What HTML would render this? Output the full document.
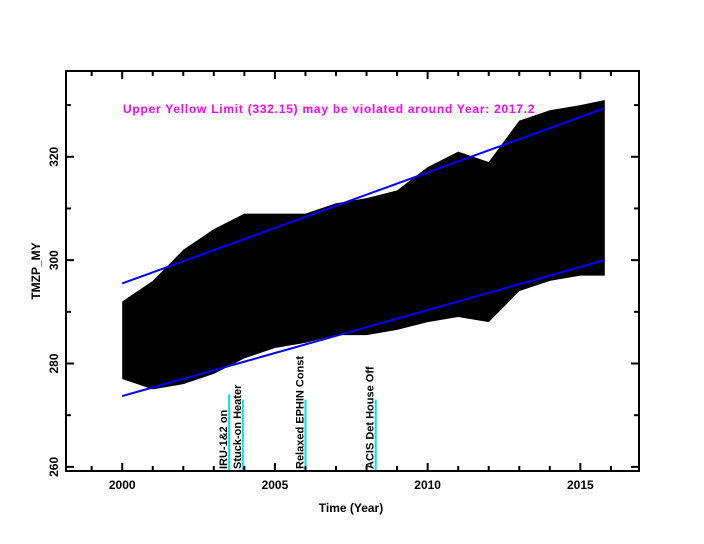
<!DOCTYPE html>
<html><head><meta charset="utf-8"><style>
html,body{margin:0;padding:0;background:#fff;}
svg{display:block;font-family:"Liberation Sans",sans-serif;}
</style></head><body>
<svg id="chart" width="704" height="544" viewBox="0 0 704 544">
<rect x="0" y="0" width="704" height="544" fill="#fff"/>
<g id="data-layer"></g>
<g id="fit-layer"></g>
<g id="event-layer"></g>
<rect x="66" y="71" width="573" height="400" fill="none" stroke="#000" stroke-width="2"/>
<g id="axes"></g>
<text x="123" y="113" fill="#ff00ff" font-size="12" font-weight="bold" letter-spacing="0.75">Upper Yellow  Limit (332.15) may be violated around Year: 2017.2</text>
<text x="351" y="512" text-anchor="middle" font-size="12" font-weight="bold">Time (Year)</text>
<text transform="translate(40,271) rotate(-90)" text-anchor="middle" font-size="12" font-weight="bold">TMZP_MY</text>
</svg>
<script>
const years = [2000,2001,2002,2003,2004,2005,2006,2007,2008,2009,2010,2011,2012,2013,2014,2015,2015.8];
const hiVals = [292,296,302,306,309,309,309,311,312,313.5,318,321,319,327,329,330,331];
const loVals = [277,275,276,278,281,283,284,285.5,285.5,286.5,288,289,288,294,296,297,297];
const fitYears = [2000,2015.8];
const upperFit = [295.5,329.4];
const lowerFit = [273.7,300];
const eventYears = [2003.5,2003.95,2006.0,2008.3];
const eventLabels = ["IRU-1&2 on","Stuck-on Heater","Relaxed EPHIN Const","ACIS Det House Off"];
const eventTops = [274,273,273,273];
const xTicks = [2000,2005,2010,2015];
const yTicks = [260,280,300,320];

const NS="http://www.w3.org/2000/svg";
const X0=66,X1=639,Y0=71,Y1=471;
const xMin=1998.16,xMax=2016.92,yMin=259.2,yMax=336.6;
function sx(v){return X0+(v-xMin)/(xMax-xMin)*(X1-X0);}
function sy(v){return Y1-(v-yMin)/(yMax-yMin)*(Y1-Y0);}
function mk(tag,attrs,parent){const e=document.createElementNS(NS,tag);for(const k in attrs)e.setAttribute(k,attrs[k]);parent.appendChild(e);return e;}

const dl=document.getElementById('data-layer');
let pts=[];
years.forEach((y,i)=>pts.push(sx(y)+','+sy(hiVals[i])));
for(let i=years.length-1;i>=0;i--)pts.push(sx(years[i])+','+sy(loVals[i]));
const band=mk('polygon',{points:pts.join(' '),fill:'#000'},dl);



const fl=document.getElementById('fit-layer');
[[upperFit,'upper-limit-line'],[lowerFit,'lower-limit-line']].forEach(([arr,name])=>{
  const l=mk('line',{x1:sx(fitYears[0]),y1:sy(arr[0]),x2:sx(fitYears[1]),y2:sy(arr[1]),stroke:'#0000ff','stroke-width':2},fl);
  
  
});

const el=document.getElementById('event-layer');
eventYears.forEach((y,i)=>{
  const x=sx(y);
  const l=mk('line',{x1:x,y1:Y1,x2:x,y2:sy(eventTops[i]),stroke:'#00e5e5','stroke-width':2},el);
  
  
  const t=mk('text',{transform:`translate(${x-2},${Y1-2}) rotate(-90)`,'font-size':11,'font-weight':'bold',fill:'#000'},el);
  t.textContent=eventLabels[i];
  
  
});

const ax=document.getElementById('axes');
for(let y=1999;y<=2016;y++){
  const major=y%5===0,len=major?8:5,x=sx(y);
  mk('line',{x1:x,y1:Y1,x2:x,y2:Y1-len,stroke:'#000','stroke-width':2},ax);
  mk('line',{x1:x,y1:Y0,x2:x,y2:Y0+len,stroke:'#000','stroke-width':2},ax);
}
xTicks.forEach(v=>{
  const t=mk('text',{x:sx(v),y:489,'text-anchor':'middle','font-size':12,'font-weight':'bold'},ax);
  t.textContent=v;
  
  
});
for(let v=260;v<=330;v+=10){
  const major=v%20===0,len=major?8:5,y=sy(v);
  mk('line',{x1:X0,y1:y,x2:X0+len,y2:y,stroke:'#000','stroke-width':2},ax);
  mk('line',{x1:X1,y1:y,x2:X1-len,y2:y,stroke:'#000','stroke-width':2},ax);
}
yTicks.forEach(v=>{
  const t=mk('text',{transform:`translate(${58},${sy(v)}) rotate(-90)`,'text-anchor':'middle','font-size':12,'font-weight':'bold'},ax);
  t.textContent=v;
  
  
});
</script>
</body></html>
